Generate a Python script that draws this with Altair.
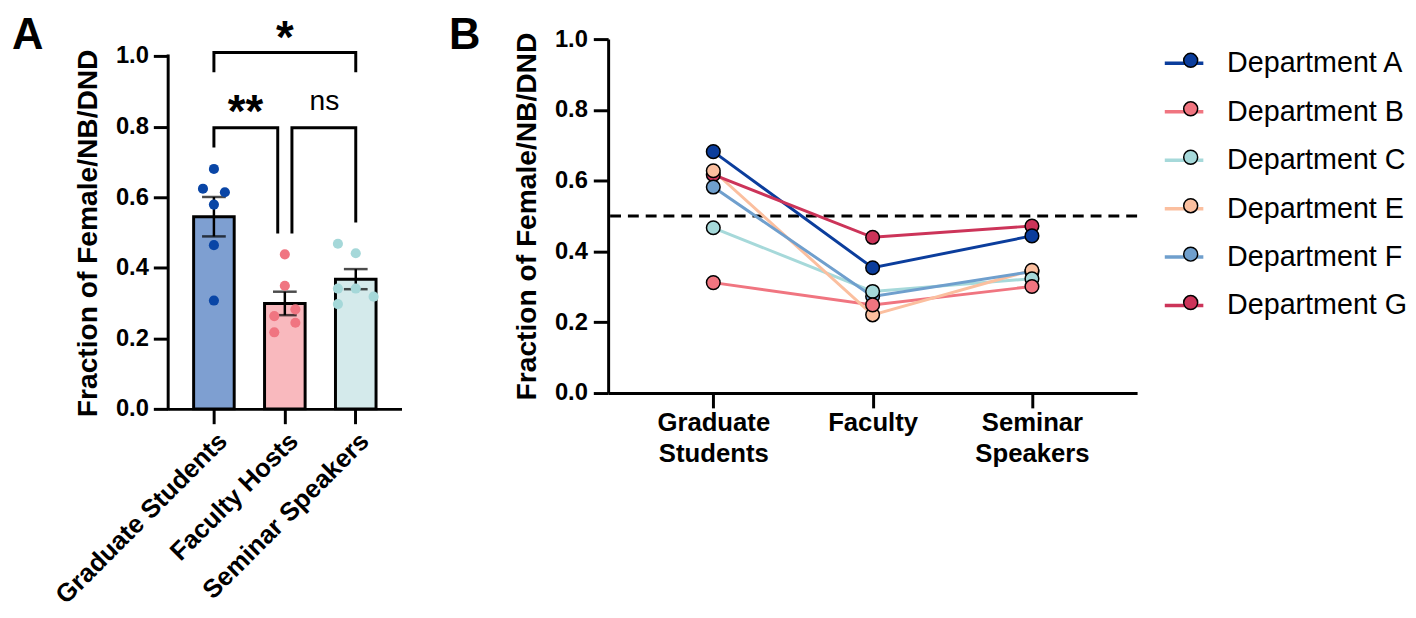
import altair as alt
import pandas as pd

FONT = "Liberation Sans"

# ---------------- Panel A data ----------------
groups = ["Graduate Students", "Faculty Hosts", "Seminar Speakers"]
grad_vals = [0.680, 0.624, 0.614, 0.579, 0.464, 0.307]
fac_vals = [0.438, 0.349, 0.282, 0.263, 0.244, 0.217]
sem_vals = [0.468, 0.441, 0.341, 0.341, 0.318, 0.297]
grad_jit = [0.0, -0.54, 0.54, 0.0, 0.0, 0.0]
fac_jit = [0.0, 0.0, 0.52, -0.52, 0.52, -0.52]
sem_jit = [-0.88, 0.0, -0.88, 0.0, 0.88, -0.88]
bar_fill = ["#7e9fd1", "#f9b9be", "#d4eaeb"]
dot_fill = ["#0a46a6", "#f07581", "#a5d8d9"]

# significance brackets (each bracket = 4 vertices)
br_id = ["gf"] * 4 + ["fs"] * 4 + ["gs"] * 4
br_cat = [groups[0], groups[0], groups[1], groups[1],
          groups[1], groups[1], groups[2], groups[2],
          groups[0], groups[0], groups[2], groups[2]]
br_off = [0, 0, -0.35, -0.35, 0.35, 0.35, 0, 0, 0, 0, 0, 0]
br_val = [0.741, 0.797, 0.797, 0.497, 0.497, 0.797, 0.797, 0.528,
          0.954, 1.010, 1.010, 0.954]
br_seq = [0, 1, 2, 3] * 3

star_lab = ["**", "*"]
star_cat = [groups[0], groups[1]]
star_off = [1.56, 0.0]
star_val = [0.799, 1.009]
ns_lab = ["ns"]
ns_cat = [groups[1]]
ns_off = [1.95]
ns_val = [0.846]
axis_span = [0.0, 1.0]

# ---------------- Panel B data ----------------
depts = ["Department A", "Department B", "Department C",
         "Department E", "Department F", "Department G"]
stages = ["Graduate Students", "Faculty", "Seminar Speakers"]
grad_b = [0.682, 0.312, 0.467, 0.628, 0.582, 0.617]
fac_b = [0.354, 0.249, 0.287, 0.221, 0.273, 0.440]
sem_b = [0.444, 0.301, 0.323, 0.347, 0.343, 0.472]
dept_colors = ["#0b3d9c", "#f07580", "#a6d9da", "#fbbf9f", "#6f9fcd", "#cc3459"]
parity = [0.5]

# ---------------- tables ----------------
df_pts = pd.DataFrame({
    "Group": [groups[0]] * 6 + [groups[1]] * 6 + [groups[2]] * 6,
    "Value": grad_vals + fac_vals + sem_vals,
    "Jit": grad_jit + fac_jit + sem_jit,
})
df_br = pd.DataFrame({"Id": br_id, "Group": br_cat, "Jit": br_off,
                      "Value": br_val, "Seq": br_seq})
df_star = pd.DataFrame({"Group": star_cat, "Jit": star_off, "Value": star_val, "Lab": star_lab})
df_ns = pd.DataFrame({"Group": ns_cat, "Jit": ns_off, "Value": ns_val, "Lab": ns_lab})
df_axis = pd.DataFrame({"lo": [axis_span[0]], "hi": [axis_span[1]]})

rows = []
for i, d in enumerate(depts):
    for s, vals in zip(stages, [grad_b, fac_b, sem_b]):
        rows.append({"Department": d, "Dept": d, "Stage": s, "Value": vals[i], "Rank": i})
df_b = pd.DataFrame(rows)

# ---------------- Panel A ----------------
TICKS = [0, 0.2, 0.4, 0.6, 0.8, 1.0]
yaxis_a = alt.Axis(values=TICKS, format=".1f", title="Fraction of Female/NB/DND", grid=False,
                   labelPadding=5, titlePadding=13, domain=False, titleY=196)
yscale_a = alt.Scale(domain=[0, 1.048], nice=False, zero=True)
y_a = alt.Y("Value:Q", scale=yscale_a, axis=yaxis_a)

xscale_a = alt.Scale(domain=groups, paddingInner=0.428, paddingOuter=0.359)
xaxis_a = alt.Axis(title=None, labelAngle=-45, labelFontSize=26, labelPadding=4, labelLimit=400)
x_a = alt.X("Group:N", scale=xscale_a, axis=xaxis_a)
off_a = alt.XOffset("Jit:Q", scale=alt.Scale(domain=[-1, 1]))

bars = alt.Chart(df_pts).mark_bar(stroke="black", strokeWidth=3).encode(
    x=x_a,
    y=alt.Y("mean(Value):Q", scale=yscale_a, axis=yaxis_a),
    fill=alt.Fill("Group:N", scale=alt.Scale(domain=groups, range=bar_fill), legend=None),
)
errs = alt.Chart(df_pts).mark_errorbar(extent="stderr", ticks=True, size=24,
                                       thickness=2.5, color="black").encode(x=x_a, y=y_a)
dots = alt.Chart(df_pts).mark_circle(size=105, opacity=1).encode(
    x=x_a, xOffset=off_a, y=y_a,
    color=alt.Color("Group:N", scale=alt.Scale(domain=groups, range=dot_fill), legend=None),
)
brackets = alt.Chart(df_br).mark_line(color="black", strokeWidth=3, strokeJoin="miter").encode(
    x=x_a, xOffset=off_a, y=y_a, detail="Id:N", order="Seq:Q",
)
stars = alt.Chart(df_star).mark_text(font=FONT, fontWeight="bold", fontSize=46,
                                     baseline="alphabetic", align="center", color="black").encode(
    x=x_a, xOffset=off_a, y=y_a, text="Lab:N",
)
ns = alt.Chart(df_ns).mark_text(font=FONT, fontSize=28.5, baseline="alphabetic",
                                align="center", color="black").encode(
    x=x_a, xOffset=off_a, y=y_a, text="Lab:N",
)
yline_a = alt.Chart(df_axis).mark_rule(color="black", strokeWidth=3, strokeCap="square").encode(
    x=alt.value(0), y=alt.Y("lo:Q", scale=yscale_a, axis=yaxis_a), y2="hi:Q",
)
letter_a = alt.Chart(pd.DataFrame({"L": ["A"]})).mark_text(
    font=FONT, fontWeight="bold", fontSize=44, align="left", baseline="top", color="black"
).encode(text="L:N", x=alt.value(-158), y=alt.value(-25))

panel_a = alt.layer(bars, errs, dots, brackets, stars, ns, yline_a, letter_a).resolve_scale(
    xOffset="independent"
).properties(width=236, height=374)

# ---------------- Panel B ----------------
yaxis_b = alt.Axis(values=TICKS, format=".1f", title="Fraction of Female/NB/DND", grid=False,
                   labelPadding=6, titlePadding=13)
yscale_b = alt.Scale(domain=[0, 1], nice=False, zero=True)
x_b = alt.X("Stage:N", scale=alt.Scale(type="point", domain=stages, padding=0.66),
            axis=alt.Axis(title=None, labelAngle=0, labelExpr="split(datum.value, ' ')",
                          labelFontSize=26, labelLineHeight=31, labelPadding=2))
y_b = alt.Y("Value:Q", scale=yscale_b, axis=yaxis_b)

rule = alt.Chart(pd.DataFrame({"Value": parity})).mark_rule(
    strokeDash=[11, 7], strokeWidth=3, color="black").encode(y=y_b)

lines = alt.Chart(df_b).mark_line(strokeWidth=3).encode(
    x=x_b, y=y_b,
    stroke=alt.Stroke("Department:N", scale=alt.Scale(domain=depts, range=dept_colors),
                      legend=alt.Legend(orient="none", legendX=561, legendY=3, title=None,
                                        symbolType="stroke", symbolSize=1521,
                                        symbolStrokeWidth=3.5, labelOffset=22,
                                        labelFontSize=29, labelFont=FONT,
                                        labelColor="black", rowPadding=12, padding=0)),
)
pts_b = alt.Chart(df_b).mark_circle(size=190, opacity=1, stroke="black", strokeWidth=1.5).encode(
    x=x_b, y=y_b,
    color=alt.Color("Dept:N", scale=alt.Scale(range=dept_colors),
                    legend=alt.Legend(orient="none", legendX=574.7, legendY=7, title=None,
                                      symbolType="circle", symbolSize=200,
                                      symbolStrokeColor="black", symbolStrokeWidth=1.5,
                                      symbolOpacity=1, labelExpr="''",
                                      labelFontSize=29, labelFont=FONT,
                                      rowPadding=19, padding=0)),
    order=alt.Order("Rank:Q", sort="descending"),
)
letter_b = alt.Chart(pd.DataFrame({"L": ["B"]})).mark_text(
    font=FONT, fontWeight="bold", fontSize=44, align="left", baseline="top", color="black"
).encode(text="L:N", x=alt.value(-161), y=alt.value(-25))

panel_b = alt.layer(rule, lines, pts_b, letter_b).properties(width=535, height=358)

chart = alt.hconcat(panel_a, panel_b, spacing=48).resolve_scale(
    color="independent", fill="independent", stroke="independent"
).properties(
    padding={"left": 4, "top": 3, "right": 0, "bottom": 0}
).configure_view(stroke=None).configure_axis(
    domainColor="black", domainWidth=3, tickColor="black", tickWidth=3, tickSize=15,
    labelFont=FONT, labelFontWeight="bold", labelFontSize=24, labelColor="black",
    titleFont=FONT, titleFontWeight="bold", titleFontSize=28.5, titleColor="black",
).configure_legend(labelLimit=400)

chart.save("out.html", embed_options={"renderer": "svg", "actions": False})
